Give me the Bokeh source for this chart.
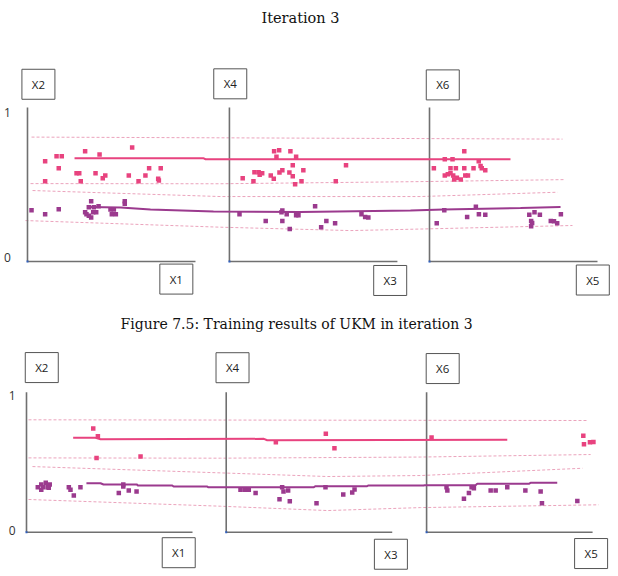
from bokeh.plotting import figure
from bokeh.layouts import column
from bokeh.models import Range1d
from bokeh.core.properties import value
from bokeh.embed import file_html
from bokeh.resources import INLINE

PINK = "#E8437F"
PURPLE = "#9B3A8E"
DASH = "#EBA3BC"
AXIS = "#707070"
SERIF = "DejaVu Serif"
SANS = "Open Sans"

# ---------------- Chart 1 : top ----------------
TITLE_1 = "Iteration 3"
PANEL_ORIGIN_1 = [0.0, 1.202, 2.393]        # x-axis start of each panel (panel-width units)
Y_LABELS_1 = ["X2", "X4", "X6"]
X_LABELS_1 = ["X1", "X3", "X5"]

# cluster 1 (high) per panel, local coordinates in [0, 1]
top_hi_x = [
    [0.105, 0.173, 0.204, 0.343, 0.429, 0.623, 0.186, 0.292, 0.308, 0.317, 0.405,
     0.448, 0.463, 0.603, 0.661, 0.702, 0.724, 0.793, 0.778, 0.782, 0.105],
    [0.266, 0.296, 0.363, 0.280, 0.397, 0.377, 0.440, 0.694, 0.315, 0.298, 0.357,
     0.149, 0.174, 0.195, 0.180, 0.246, 0.264, 0.079, 0.143, 0.429, 0.377, 0.391, 0.633],
    [0.207, 0.091, 0.137, 0.293, 0.026, 0.125, 0.157, 0.207, 0.262, 0.304, 0.311,
     0.332, 0.091, 0.109, 0.125, 0.141, 0.163, 0.147, 0.186, 0.213, 0.229],
]
top_hi_y = [
    [0.651, 0.684, 0.684, 0.716, 0.695, 0.740, 0.606, 0.573, 0.573, 0.521, 0.573,
     0.541, 0.558, 0.558, 0.521, 0.558, 0.606, 0.606, 0.537, 0.526, 0.521],
    [0.716, 0.723, 0.716, 0.680, 0.680, 0.625, 0.593, 0.625, 0.593, 0.578, 0.578,
     0.580, 0.580, 0.573, 0.563, 0.558, 0.537, 0.541, 0.521, 0.521, 0.554, 0.502, 0.521],
    [0.716, 0.664, 0.664, 0.651, 0.606, 0.606, 0.606, 0.606, 0.606, 0.621, 0.606,
     0.593, 0.558, 0.567, 0.573, 0.558, 0.544, 0.532, 0.532, 0.558, 0.558],
]
# cluster 2 (low) per panel
top_lo_x = [
    [0.024, 0.105, 0.186, 0.343, 0.351, 0.365, 0.379, 0.379, 0.365, 0.395, 0.423,
     0.391, 0.409, 0.494, 0.514, 0.502, 0.526, 0.579, 0.579],
    [0.060, 0.216, 0.315, 0.310, 0.315, 0.341, 0.397, 0.411, 0.359, 0.510, 0.546,
     0.577, 0.629, 0.786, 0.808, 0.827],
    [0.043, 0.088, 0.224, 0.276, 0.294, 0.332, 0.594, 0.625, 0.657, 0.782, 0.605,
     0.611, 0.605, 0.722, 0.741, 0.760],
]
top_lo_y = [
    [0.333, 0.307, 0.340, 0.320, 0.307, 0.297, 0.286, 0.392, 0.353, 0.353, 0.359,
     0.320, 0.320, 0.338, 0.338, 0.307, 0.307, 0.392, 0.375],
    [0.307, 0.264, 0.331, 0.320, 0.264, 0.307, 0.301, 0.301, 0.212, 0.359, 0.223,
     0.264, 0.249, 0.307, 0.290, 0.286],
    [0.249, 0.333, 0.290, 0.355, 0.307, 0.303, 0.303, 0.320, 0.303, 0.307, 0.264,
     0.251, 0.229, 0.264, 0.262, 0.249],
]
# cluster centre lines and boundary lines (global x)
top_hi_line_x = [0.280, 1.046, 1.060, 2.875]
top_hi_line_y = [0.671, 0.671, 0.664, 0.664]
top_lo_line_x = [0.357, 0.554, 0.732, 1.107, 1.625, 2.280, 2.476, 2.935, 3.173]
top_lo_line_y = [0.354, 0.351, 0.338, 0.325, 0.321, 0.331, 0.338, 0.347, 0.354]
top_bounds_x = [
    [0.024, 3.185],
    [0.018, 1.149, 2.339, 3.202],
    [0.030, 1.149, 2.339, 3.155],
    [-0.012, 1.149, 1.923, 2.339, 3.244],
]
top_bounds_y = [
    [0.808, 0.795],
    [0.506, 0.505, 0.519, 0.532],
    [0.461, 0.422, 0.422, 0.450],
    [0.266, 0.223, 0.201, 0.211, 0.234],
]

# ---------------- Chart 2 : bottom ----------------
CAPTION = "Figure 7.5: Training results of UKM in iteration 3"
PANEL_ORIGIN_2 = [0.0, 1.203, 2.410]

bot_hi_x = [
    [0.402, 0.430, 0.422, 0.687],
    [0.600, 0.652, 0.299],
    [0.030, 0.944, 0.948, 0.984, 1.005],
]
bot_hi_y = [
    [0.741, 0.686, 0.531, 0.541],
    [0.703, 0.600, 0.643],
    [0.676, 0.689, 0.629, 0.643, 0.645],
]
bot_lo_x = [
    [0.068, 0.089, 0.089, 0.101, 0.116, 0.128, 0.140, 0.134, 0.255, 0.265, 0.285,
     0.325, 0.556, 0.583, 0.583, 0.616, 0.663],
    [0.086, 0.112, 0.136, 0.177, 0.321, 0.337, 0.345, 0.373, 0.383, 0.544, 0.598,
     0.705, 0.759, 0.773],
    [0.120, 0.125, 0.225, 0.255, 0.271, 0.285, 0.386, 0.416, 0.486, 0.595, 0.687,
     0.695, 0.908],
]
bot_lo_y = [
    [0.321, 0.341, 0.303, 0.321, 0.353, 0.321, 0.341, 0.317, 0.321, 0.303, 0.262,
     0.321, 0.281, 0.341, 0.326, 0.298, 0.291],
    [0.303, 0.303, 0.303, 0.281, 0.236, 0.321, 0.291, 0.298, 0.221, 0.207, 0.321,
     0.269, 0.284, 0.305],
    [0.321, 0.298, 0.239, 0.281, 0.321, 0.314, 0.298, 0.298, 0.321, 0.298, 0.291,
     0.207, 0.224],
]
bot_hi_line_x = [0.281, 0.416, 0.446, 1.430, 1.450, 2.896]
bot_hi_line_y = [0.674, 0.674, 0.664, 0.667, 0.657, 0.660]
bot_lo_line_x = [0.361, 0.446, 0.464, 0.667, 0.669, 0.878, 0.886, 1.089, 1.096, 1.729,
                 1.741, 2.052, 2.060, 2.392, 2.398, 2.705, 2.715, 3.026, 3.036, 3.197]
bot_lo_line_y = [0.350, 0.350, 0.341, 0.341, 0.334, 0.334, 0.326, 0.326, 0.321, 0.321,
                 0.329, 0.329, 0.334, 0.334, 0.336, 0.336, 0.346, 0.346, 0.353, 0.353]
bot_bounds_x = [
    [0.012, 3.380],
    [0.012, 1.169, 2.373, 3.398],
    [0.036, 1.169, 1.813, 2.373, 3.349],
    [0.012, 1.169, 1.813, 2.373, 3.446],
]
bot_bounds_y = [
    [0.803, 0.798],
    [0.531, 0.529, 0.537, 0.555],
    [0.469, 0.424, 0.398, 0.405, 0.457],
    [0.234, 0.186, 0.155, 0.176, 0.196],
]


def make_chart(height, x_rng, y_rng, origins, hi_x, hi_y, lo_x, lo_y,
               hi_lx, hi_ly, lo_lx, lo_ly, bx, by,
               ybox_pos, xbox_pos, one_pos, zero_pos, heading, heading_pos, heading_size):
    p = figure(width=618, height=height, output_backend="svg", toolbar_location=None,
               x_range=Range1d(*x_rng), y_range=Range1d(*y_rng),
               min_border=0, outline_line_color=None)
    p.axis.visible = False
    p.grid.visible = False

    # heading (title or caption)
    p.text(x=[heading_pos[0]], y=[heading_pos[1]], text=[heading],
           text_font=value(SERIF), text_font_size=heading_size, text_color="#111111",
           text_align="center", text_baseline="middle")

    # boundary lines
    for xs, ys in zip(bx, by):
        p.line(xs, ys, line_color=DASH, line_width=1, line_dash="3 2")

    # panel axes
    for o in origins:
        p.line([o, o], [0, 1.0], line_color=AXIS, line_width=1.6)
        p.line([o, o + 1.0], [0, 0], line_color=AXIS, line_width=1.6)
        p.scatter([o], [0], marker="square", size=2, fill_color="#3060c0", line_color=None)

    # cluster centre lines
    p.line(hi_lx, hi_ly, line_color=PINK, line_width=2)
    p.line(lo_lx, lo_ly, line_color=PURPLE, line_width=2)

    # data points
    for o, xs, ys in zip(origins, hi_x, hi_y):
        p.scatter([o + v for v in xs], ys, marker="square", size=4.5,
                  fill_color=PINK, line_color=None)
    for o, xs, ys in zip(origins, lo_x, lo_y):
        p.scatter([o + v for v in xs], ys, marker="square", size=4.5,
                  fill_color=PURPLE, line_color=None)

    # feature name boxes
    for (bxp, byp, lab) in ybox_pos + xbox_pos:
        p.rect(x=[bxp], y=[byp], width=33, height=30, width_units="screen",
               height_units="screen", fill_color="white", line_color="#555555", line_width=1)
        p.text(x=[bxp], y=[byp], text=[lab], text_font=value(SANS), text_font_size="11.5px",
               text_color="#222222", text_align="center", text_baseline="middle")

    # 0 / 1 markers on the first y axis
    p.text(x=[one_pos[0]], y=[one_pos[1]], text=["1"], text_font=value(SANS),
           text_font_size="12px", text_color="#333333", text_align="center",
           text_baseline="middle")
    p.text(x=[zero_pos[0]], y=[zero_pos[1]], text=["0"], text_font=value(SANS),
           text_font_size="12px", text_color="#333333", text_align="center",
           text_baseline="middle")
    return p


top = make_chart(
    300, (-0.1607, 3.518), (-0.253, 1.695), PANEL_ORIGIN_1,
    top_hi_x, top_hi_y, top_lo_x, top_lo_y,
    top_hi_line_x, top_hi_line_y, top_lo_line_x, top_lo_line_y,
    top_bounds_x, top_bounds_y,
    [(0.065, 1.151, Y_LABELS_1[0]), (1.207, 1.154, Y_LABELS_1[1]), (2.472, 1.147, Y_LABELS_1[2])],
    [(0.886, -0.114, X_LABELS_1[0]), (2.159, -0.123, X_LABELS_1[1]), (3.365, -0.120, X_LABELS_1[2])],
    (-0.12, 0.969), (-0.12, 0.028), TITLE_1, (1.625, 1.584), "14.5px")

bottom = make_chart(
    276, (-0.1566, 3.566), (-0.316, 1.655), PANEL_ORIGIN_2,
    bot_hi_x, bot_hi_y, bot_lo_x, bot_lo_y,
    bot_hi_line_x, bot_hi_line_y, bot_lo_line_x, bot_lo_line_y,
    bot_bounds_x, bot_bounds_y,
    [(0.092, 1.176, Y_LABELS_1[0]), (1.241, 1.175, Y_LABELS_1[1]), (2.507, 1.169, Y_LABELS_1[2])],
    [(0.917, -0.146, X_LABELS_1[0]), (2.195, -0.157, X_LABELS_1[1]), (3.401, -0.152, X_LABELS_1[2])],
    (-0.086, 0.976), (-0.086, 0.012), CAPTION, (1.627, 1.485), "14px")

layout = column(top, bottom, spacing=0)
open("out.html", "w").write(file_html(layout, INLINE))
